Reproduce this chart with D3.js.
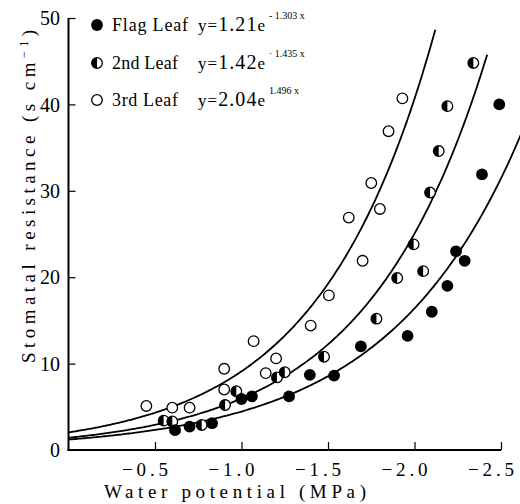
<!DOCTYPE html>
<html><head><meta charset="utf-8">
<script src="https://cdn.jsdelivr.net/npm/d3@7"></script>
<style>body{margin:0;background:#fff}svg{display:block}</style>
</head><body><svg id="c" width="520" height="504" font-family="'Liberation Serif', 'Times New Roman', 'DejaVu Serif', serif"></svg>
<script>
// Data (water potential magnitude in MPa, resistance s/cm)
const flagX = [0.616,0.70,0.83,1.00,1.06,1.275,1.395,1.535,1.69,1.96,2.10,2.19,2.24,2.29,2.39,2.49];
const flagY = [2.3,2.7,3.1,5.9,6.2,6.2,8.7,8.6,12.0,13.2,16.0,19.0,23.0,21.9,31.9,40.0];
const secondX = [0.55,0.60,0.77,0.905,0.97,1.205,1.25,1.477,1.78,1.90,1.995,2.05,2.09,2.14,2.19,2.34];
const secondY = [3.4,3.3,2.9,5.2,6.8,8.4,9.0,10.8,15.2,19.9,23.8,20.7,29.8,34.6,39.8,44.8];
const thirdX = [0.45,0.60,0.70,0.90,0.90,1.07,1.14,1.20,1.40,1.505,1.62,1.70,1.75,1.80,1.85,1.93];
const thirdY = [5.1,4.9,4.9,9.4,7.0,12.6,8.9,10.6,14.4,17.9,26.9,21.9,30.9,27.9,36.9,40.7];
const seriesNames = ["Flag Leaf","2nd Leaf","3rd Leaf"];
const coefA = [1.21,1.42,2.04];
const coefB = [1.303,1.435,1.496];
const coefAText = ["1.21","1.42","2.04"];
const expText = ["- 1.303 x","· 1.435 x","1.496 x"];
const curveEnd = [2.62,2.42,2.12];
const xTicks = [0.5,1.0,1.5,2.0,2.5];
const xTickLabels = ["−0.5","−1.0","−1.5","−2.0","−2.5"];
const yTicks = [0,10,20,30,40,50];

const FONT = "'Liberation Serif', 'Times New Roman', 'DejaVu Serif', serif";
const svg = d3.select("#c");
const x = d3.scaleLinear().domain([0,2.5]).range([68.5,501]);
const y = d3.scaleLinear().domain([0,50]).range([450,18]);

function T(sel){ return sel.attr("font-family",FONT).attr("fill","#000"); }

// axes
const yAxis = d3.axisRight(y).tickValues(yTicks.filter(d=>d>0)).tickSize(7).tickFormat("");
const gy = svg.append("g").attr("transform",`translate(${x(0)},0)`).call(yAxis);
gy.select(".domain").remove();
gy.selectAll("line").attr("stroke","#000").attr("stroke-width",1.2);
const xAxis = d3.axisTop(x).tickValues(xTicks).tickSize(8).tickFormat("");
const gx = svg.append("g").attr("transform",`translate(0,${y(0)})`).call(xAxis);
gx.select(".domain").remove();
gx.selectAll("line").attr("stroke","#000").attr("stroke-width",1.2);
svg.append("line").attr("x1",x(0)).attr("x2",x(0)).attr("y1",y(0)+1).attr("y2",y(50)).attr("stroke","#000").attr("stroke-width",2);
svg.append("line").attr("x1",x(0)-1).attr("x2",x(2.5)).attr("y1",y(0)).attr("y2",y(0)).attr("stroke","#000").attr("stroke-width",2);

T(svg.selectAll(".yl").data(yTicks).join("text").attr("class","yl"))
  .attr("x",60).attr("y",d=>y(d)).attr("dy","0.36em").attr("text-anchor","end")
  .attr("font-size",20).text(d=>d);
T(svg.selectAll(".xl").data(xTicks).join("text").attr("class","xl"))
  .attr("x",d=>x(d)+13).attr("y",476).attr("text-anchor","end")
  .attr("textLength",46).attr("lengthAdjust","spacing")
  .attr("font-size",19).text((d,i)=>xTickLabels[i]);

T(svg.append("text")).attr("x",104).attr("y",498).attr("textLength",262).attr("lengthAdjust","spacing")
  .attr("font-size",19).text("Water potential (MPa)");
const yt = T(svg.append("text")).attr("transform","translate(35,363) rotate(-90)")
  .attr("textLength",333).attr("lengthAdjust","spacing").attr("font-size",19);
yt.append("tspan").text("Stomatal resistance (s cm");
yt.append("tspan").attr("dy",-7).attr("font-size",12).text("−1");
yt.append("tspan").attr("dy",7).text(")");

// curves
const line = d3.line().x(d=>x(d[0])).y(d=>y(d[1]));
coefA.forEach((a,i)=>{
  const pts = d3.range(0,curveEnd[i]+1e-9,0.01).map(t=>[t,a*Math.exp(coefB[i]*t)]);
  svg.append("path").attr("d",line(pts)).attr("fill","none").attr("stroke","#000").attr("stroke-width",1.8);
});

// markers
const R = 5.3;
function marker(g,cx,cy,type){
  if(type===0){ g.append("circle").attr("cx",cx).attr("cy",cy).attr("r",R+0.6).attr("fill","#000"); }
  else if(type===1){
    g.append("circle").attr("cx",cx).attr("cy",cy).attr("r",R).attr("fill","#fff").attr("stroke","#000").attr("stroke-width",1.3);
    g.append("path").attr("d",`M${cx},${cy-R} A${R},${R} 0 0 0 ${cx},${cy+R} Z`).attr("fill","#000");
  } else {
    g.append("circle").attr("cx",cx).attr("cy",cy).attr("r",R).attr("fill","#fff").attr("stroke","#000").attr("stroke-width",1.3);
  }
}
const gm = svg.append("g");
[[thirdX,thirdY,2],[secondX,secondY,1],[flagX,flagY,0]].forEach(([xs,ys,t])=>{
  xs.forEach((v,i)=>marker(gm,x(v),y(ys[i]),t));
});

// legend
const rowsY = [25,63,100];
seriesNames.forEach((n,i)=>{
  marker(svg,97,rowsY[i],i);
  T(svg.append("text")).attr("x",112).attr("y",rowsY[i]).attr("dy","0.35em")
    .attr("textLength",i===0?76:66).attr("lengthAdjust","spacing").attr("font-size",18).text(n);
  const eq = T(svg.append("text")).attr("x",198).attr("y",rowsY[i]).attr("dy","0.38em")
    .attr("font-size",17).attr("textLength",67).attr("lengthAdjust","spacing");
  eq.append("tspan").text("y=");
  eq.append("tspan").attr("font-size",20).text(coefAText[i]);
  eq.append("tspan").text("e");
  T(svg.append("text")).attr("x",269).attr("y",rowsY[i]-6).attr("font-size",10).text(expText[i]);
});
</script></body></html>
